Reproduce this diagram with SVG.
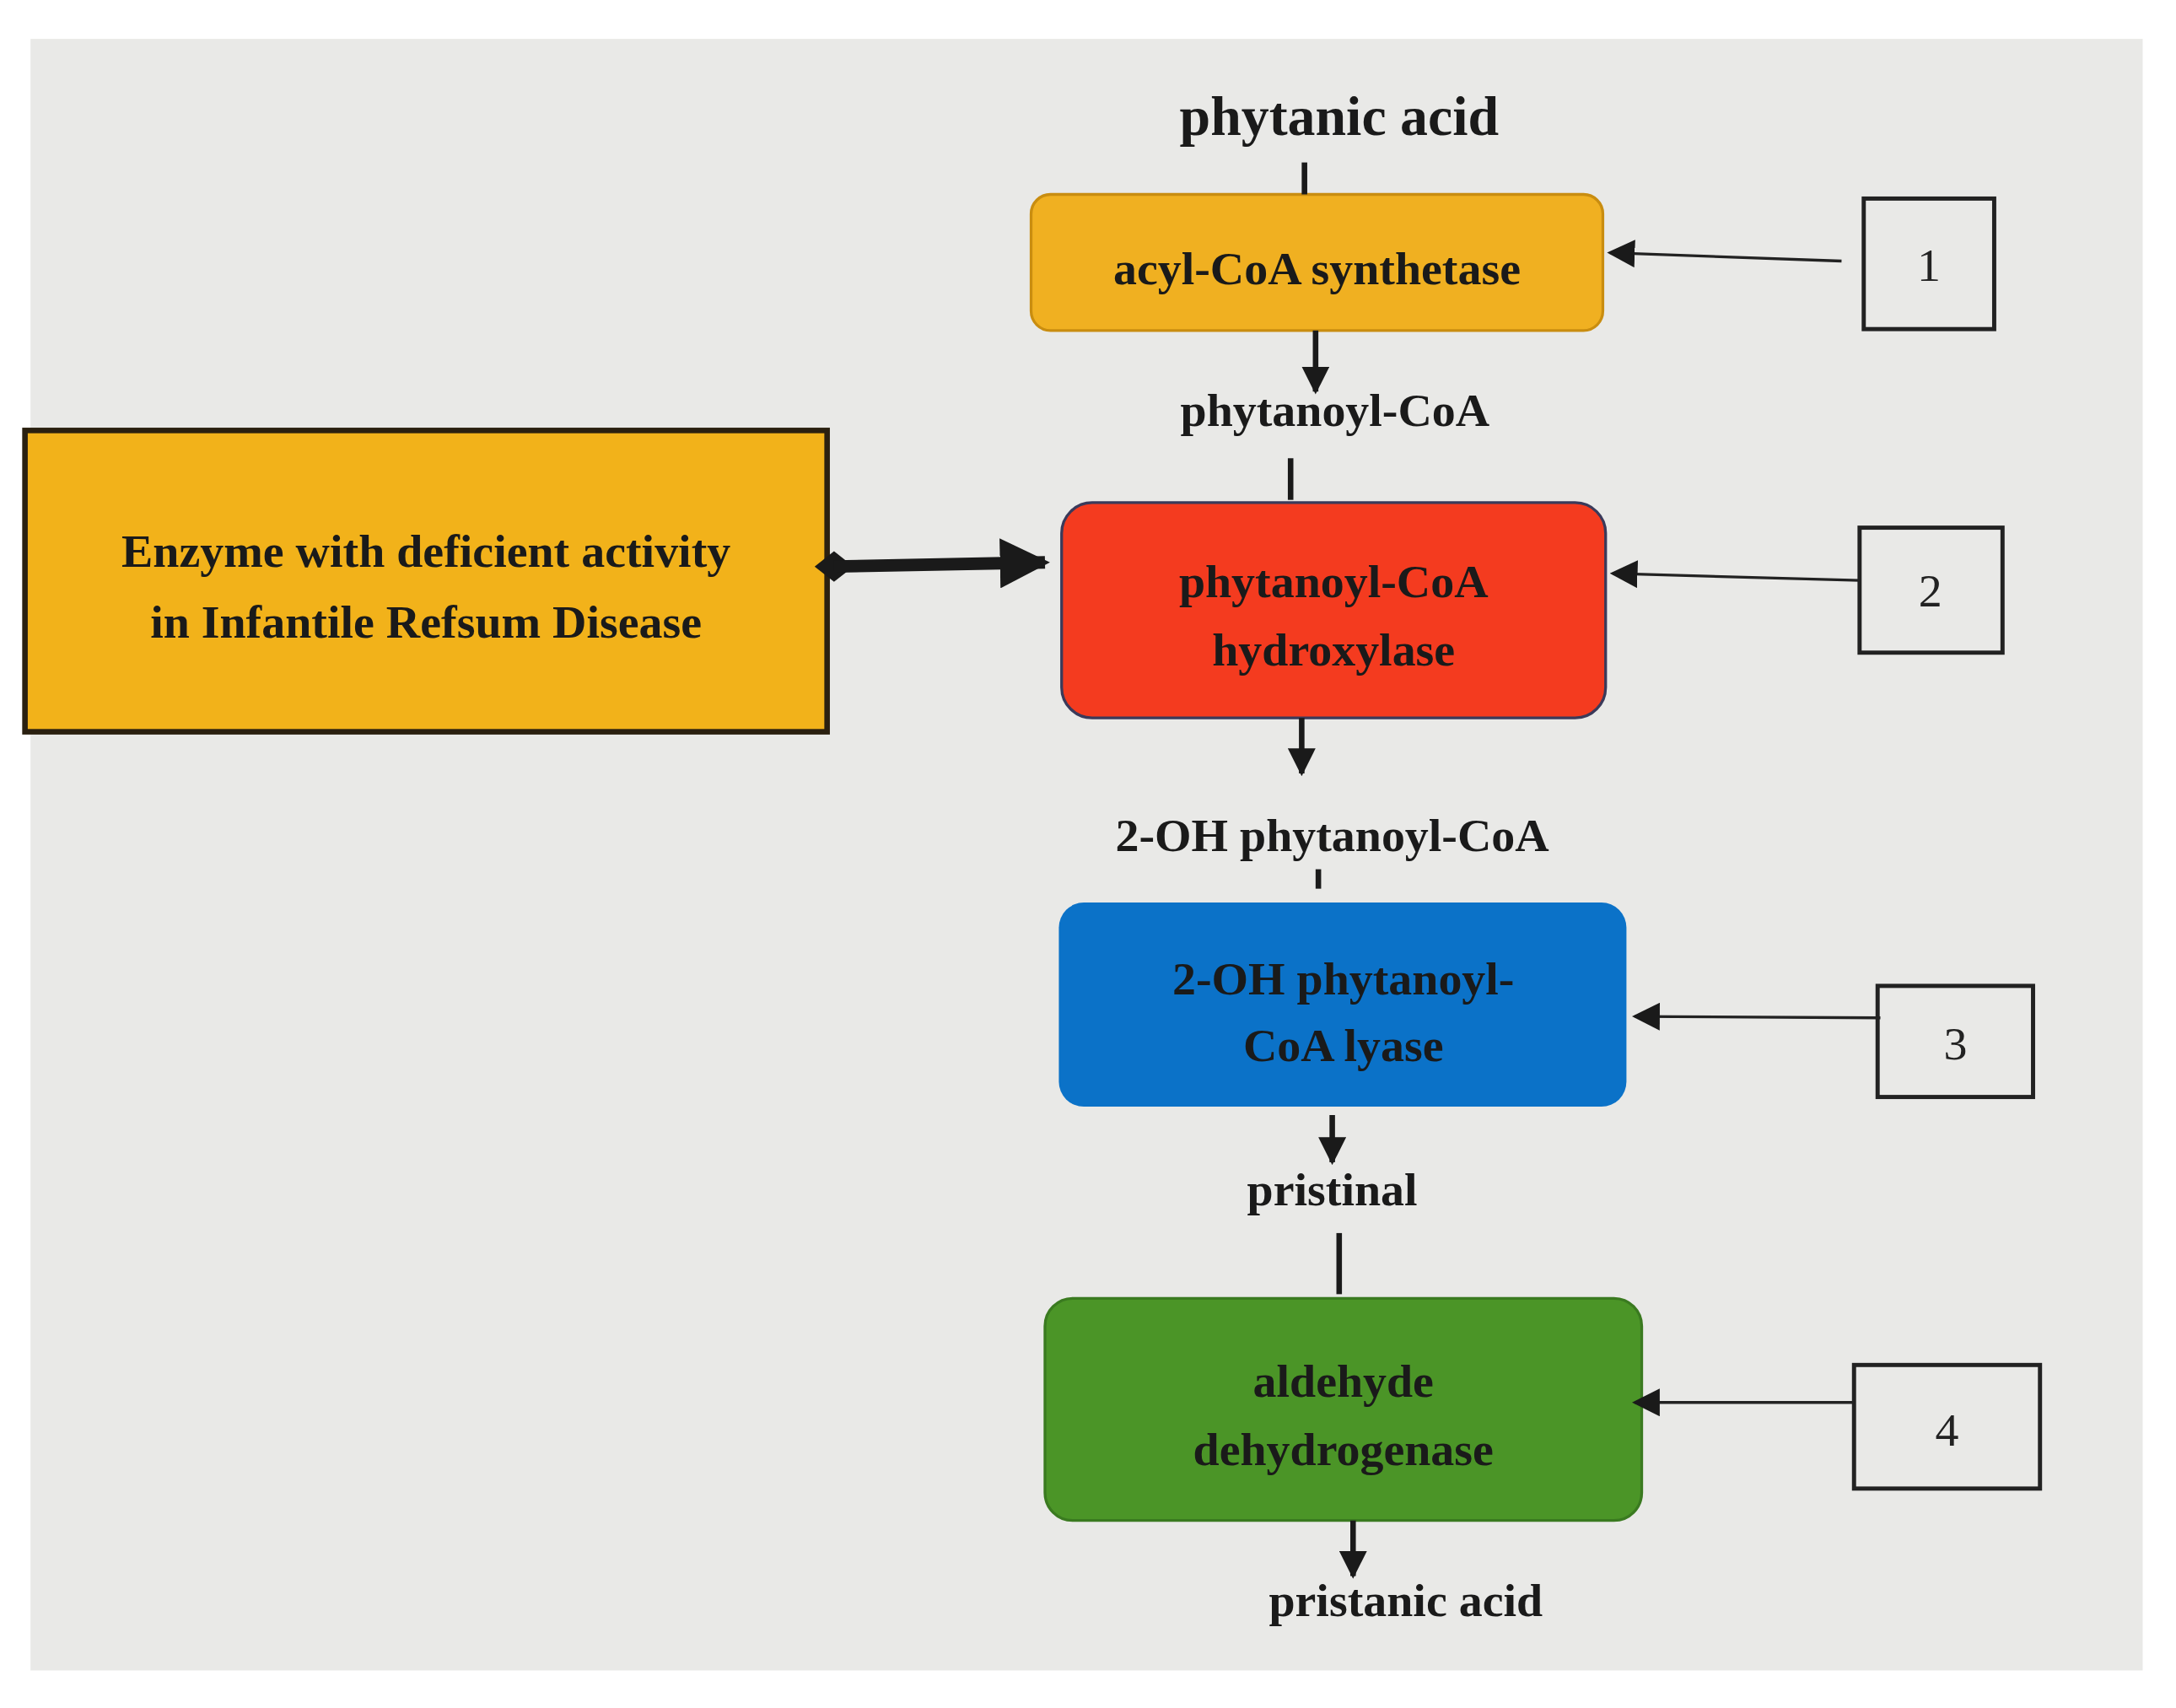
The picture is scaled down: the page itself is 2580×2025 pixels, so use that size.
<svg xmlns="http://www.w3.org/2000/svg" width="2580" height="2025" viewBox="0 0 2580 2025">
<defs>
<style>
.t{font-family:"Liberation Serif","Times New Roman",serif;font-weight:bold;text-anchor:middle;fill:#1a1a1a}
.n{font-family:"Liberation Serif","Times New Roman",serif;text-anchor:middle;fill:#222;font-size:34px}
.ln{stroke:#1a1a1a;stroke-width:4;fill:none}
.thin{stroke:#222;stroke-width:2;fill:none}
.nb{fill:none;stroke:#222;stroke-width:3}
</style>
<marker id="ah" viewBox="0 0 10 10" refX="9" refY="5" markerWidth="5" markerHeight="5" orient="auto"><path d="M0,0 L10,5 L0,10 z" fill="#1a1a1a"/></marker>
<marker id="ah2" viewBox="0 0 10 10" refX="9" refY="5" markerWidth="10" markerHeight="10" orient="auto"><path d="M0,0 L10,5 L0,10 z" fill="#1a1a1a"/></marker>
<marker id="ahb" viewBox="0 0 10 10" refX="9" refY="5" markerWidth="4" markerHeight="4" orient="auto"><path d="M0,0 L10,5 L0,10 z" fill="#1a1a1a"/></marker>
</defs>
<rect width="2580" height="2025" fill="#ffffff"/>
<g transform="scale(1.6454 1.6463)">
<rect x="22" y="28" width="1522" height="1175" fill="#e9e9e7"/>
<g id="phytanic"><text class="t" x="965" y="97" font-size="40">phytanic acid</text></g>
<g id="acyl"><rect x="743" y="140" width="412" height="98" rx="14" fill="#f0b021" stroke="#c98d10" stroke-width="2"/><text class="t" x="949" y="205" font-size="34">acyl-CoA synthetase</text></g>
<g id="phytanoylcoa"><text class="t" x="962" y="307" font-size="34">phytanoyl-CoA</text></g>
<g id="hydroxylase"><rect x="765" y="362" width="392" height="155" rx="22" fill="#f43b1f" stroke="#3a3a5a" stroke-width="2"/><text class="t" x="961" y="430" font-size="34">phytanoyl-CoA</text><text class="t" x="961" y="479" font-size="34">hydroxylase</text></g>
<g id="ohcoa"><text class="t" x="960" y="613" font-size="34">2-OH phytanoyl-CoA</text></g>
<g id="lyase"><rect x="763" y="650" width="409" height="147" rx="18" fill="#0b72c8"/><text class="t" x="968" y="716" font-size="34">2-OH phytanoyl-</text><text class="t" x="968" y="764" font-size="34">CoA lyase</text></g>
<g id="pristinal"><text class="t" x="960" y="868" font-size="34">pristinal</text></g>
<g id="aldehyde"><rect x="753" y="935" width="430" height="160" rx="20" fill="#4b9527" stroke="#3a7a20" stroke-width="2"/><text class="t" x="968" y="1006" font-size="34">aldehyde</text><text class="t" x="968" y="1055" font-size="34">dehydrogenase</text></g>
<g id="pristanic"><text class="t" x="1013" y="1164" font-size="34">pristanic acid</text></g>
<g id="enzyme"><rect x="18" y="310" width="578" height="217" fill="#f2b21a" stroke="#2a2010" stroke-width="4"/><text class="t" x="307" y="408" font-size="34">Enzyme with deficient activity</text><text class="t" x="307" y="459" font-size="34">in Infantile Refsum Disease</text></g>
<g id="n1"><rect class="nb" x="1343" y="143" width="94" height="94"/><text class="n" x="1390" y="202">1</text></g>
<g id="n2"><rect class="nb" x="1340" y="380" width="103" height="90"/><text class="n" x="1391" y="437">2</text></g>
<g id="n3"><rect class="nb" x="1353" y="710" width="112" height="80"/><text class="n" x="1409" y="763">3</text></g>
<g id="n4"><rect class="nb" x="1336" y="983" width="134" height="89"/><text class="n" x="1403" y="1041">4</text></g>
<g id="connectors">
<line class="ln" x1="940" y1="117" x2="940" y2="140"/>
<line class="ln" x1="948" y1="238" x2="948" y2="282" marker-end="url(#ah)"/>
<line class="ln" x1="930" y1="330" x2="930" y2="360"/>
<line class="ln" x1="938" y1="517" x2="938" y2="557" marker-end="url(#ah)"/>
<line class="ln" x1="950" y1="626" x2="950" y2="640"/>
<line class="ln" x1="960" y1="803" x2="960" y2="837" marker-end="url(#ah)"/>
<line class="ln" x1="965" y1="888" x2="965" y2="932"/>
<line class="ln" x1="975" y1="1095" x2="975" y2="1135" marker-end="url(#ah)"/>
<line class="thin" x1="1327" y1="188" x2="1160" y2="182" marker-end="url(#ah2)"/>
<line class="thin" x1="1340" y1="418" x2="1162" y2="413" marker-end="url(#ah2)"/>
<line class="thin" x1="1355" y1="733" x2="1178" y2="732" marker-end="url(#ah2)"/>
<line class="thin" x1="1336" y1="1010" x2="1178" y2="1010" marker-end="url(#ah2)"/>
<path d="M587,408 L601,397 L615,408 L601,419 z" fill="#1a1a1a"/>
<line x1="601" y1="408" x2="753" y2="405" stroke="#1a1a1a" stroke-width="9" marker-end="url(#ahb)"/>
</g>
</g>
</svg>
